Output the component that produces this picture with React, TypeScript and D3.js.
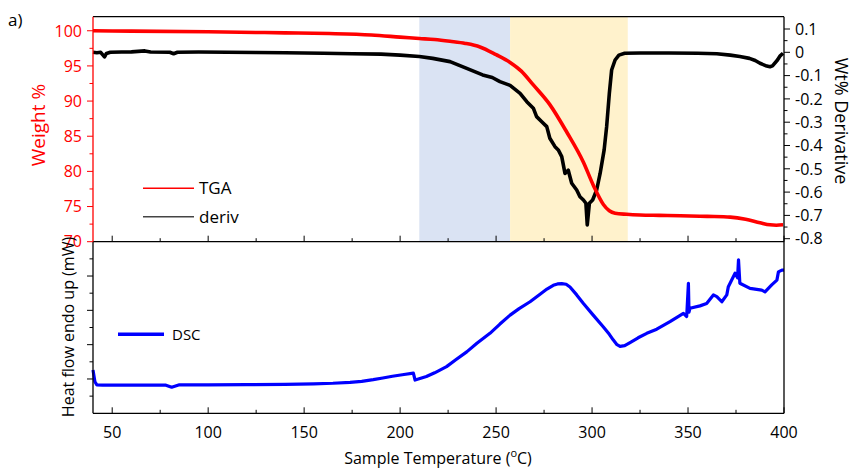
import React from "react";
import * as d3 from "d3";

// ---------- data ----------
const tgaTemp = [40, 60, 100, 140, 163, 185, 200, 210, 218, 226, 234, 241.6, 250, 257.3, 263, 269.4, 278, 286.8, 295.5, 300.7, 305.9, 309, 312, 318, 325, 335, 346, 360, 372, 380, 387.5, 392.7, 396, 399.5];
const tgaWeight = [100, 99.95, 99.85, 99.7, 99.6, 99.4, 99.1, 98.9, 98.75, 98.5, 98.2, 97.7, 96.6, 95.5, 94.3, 92.3, 89.5, 85.6, 81.3, 78.0, 75.3, 74.4, 74.05, 73.9, 73.8, 73.75, 73.7, 73.6, 73.5, 73.2, 72.7, 72.4, 72.35, 72.4];

const derivTemp = [40, 42, 44, 46, 47, 49, 55, 60, 67, 70, 80, 82, 84, 95, 110, 125, 140, 160, 175, 190, 200, 210, 217, 226, 234.7, 243, 248, 252, 257.3, 262.5, 266, 269.4, 271.1, 273.8, 276.4, 278, 280.7, 282.4, 284.2, 285.9, 287.6, 289.4, 292, 293.7, 295.5, 296.8, 297.5, 298.6, 300.3, 302.4, 304.2, 306.3, 307.6, 309, 310.2, 312, 314, 317, 325, 340, 355, 365, 372, 377, 382, 385, 387.5, 391, 392.7, 394, 396.6, 398, 399.5];
const derivValue = [0.0, -0.002, 0.0, -0.02, -0.005, 0.0, 0.001, 0.002, 0.006, 0.001, 0.0, -0.006, 0.0, 0.001, 0.0, -0.001, -0.002, -0.004, -0.006, -0.008, -0.012, -0.018, -0.026, -0.04, -0.069, -0.097, -0.108, -0.126, -0.142, -0.176, -0.212, -0.24, -0.276, -0.298, -0.319, -0.369, -0.405, -0.419, -0.448, -0.52, -0.506, -0.562, -0.591, -0.62, -0.634, -0.648, -0.741, -0.648, -0.634, -0.591, -0.52, -0.419, -0.319, -0.176, -0.076, -0.033, -0.012, -0.004, -0.003, -0.003, -0.004, -0.006, -0.012, -0.018, -0.026, -0.035, -0.047, -0.059, -0.062, -0.058, -0.033, -0.015, -0.004];

const dscTemp = [40, 41, 42, 45, 60, 78, 81, 85, 100, 120, 140, 155, 165, 173.9, 180, 186, 191, 196, 202, 206.9, 207.8, 213.7, 218, 224.2, 229, 234.7, 240, 246.8, 252, 257.3, 262, 267.7, 272.9, 276.5, 279.8, 282, 284.2, 286.5, 288.5, 292, 295.5, 300.6, 305.8, 309, 311, 313, 314.6, 317, 319.8, 324, 328.5, 333.7, 340.6, 347.6, 349.3, 350.2, 350.5, 351, 356.2, 359.7, 363.2, 365, 367.6, 370.2, 371, 374.5, 375.8, 376.3, 377, 382.3, 388.4, 390.1, 393.6, 396.3, 397.1, 398.9, 400];
const dscValue = [1.26, 0.92, 0.83, 0.82, 0.82, 0.82, 0.76, 0.83, 0.83, 0.835, 0.845, 0.86, 0.875, 0.9, 0.93, 0.98, 1.03, 1.08, 1.13, 1.17, 0.97, 1.07, 1.18, 1.36, 1.56, 1.79, 2.04, 2.33, 2.6, 2.86, 3.05, 3.25, 3.47, 3.62, 3.73, 3.77, 3.78, 3.76, 3.68, 3.45, 3.2, 2.86, 2.52, 2.3, 2.14, 2.0, 1.95, 1.97, 2.06, 2.2, 2.33, 2.45, 2.67, 2.91, 2.82, 3.79, 2.95, 3.06, 3.13, 3.2, 3.45, 3.4, 3.25, 3.45, 3.69, 4.08, 3.95, 4.47, 3.79, 3.64, 3.59, 3.54, 3.74, 3.88, 4.12, 4.17, 4.17];

const shadeBands = [
  { from: 210, to: 257.3, color: "#dae3f3" },
  { from: 257.3, to: 318.6, color: "#fff2cc" },
];

const xTicks = [50, 100, 150, 200, 250, 300, 350, 400];
const weightTicks = [70, 75, 80, 85, 90, 95, 100];
const derivTicks = [0.1, 0, -0.1, -0.2, -0.3, -0.4, -0.5, -0.6, -0.7, -0.8];

// ---------- layout ----------
const W = 854, H = 470;
const L = 93, R = 784;
const T1 = 16.7, B1 = 241.7, B2 = 413.3;
const FONT = "'Open Sans', 'Noto Sans', sans-serif";

export default function App() {
  const x = d3.scaleLinear().domain([40, 400]).range([L, R]);
  const yW = d3.scaleLinear().domain([70, 102]).range([B1, T1]);
  const yD = d3.scaleLinear().domain([-0.8129, 0.1528]).range([B1, T1]);
  const yH = d3.scaleLinear().domain([0, 5]).range([B2, B1]);

  const tgaLine = d3.line<number>().x((_, i) => x(tgaTemp[i])).y((d) => yW(d)).curve(d3.curveMonotoneX)(tgaWeight) || "";
  const derivLine = d3.line<number>().x((_, i) => x(derivTemp[i])).y((d) => yD(d))(derivValue) || "";
  const dscLine = d3.line<number>().x((_, i) => x(dscTemp[i])).y((d) => yH(d))(dscValue) || "";

  const xMinor = d3.range(50, 400, 25).filter((v) => v % 50 !== 0);
  const wMinor = d3.range(72.5, 102, 5);
  const dMinor = d3.range(-0.75, 0.15, 0.1);
  const hMajor = d3.range(1, 5, 1);
  const hMinor = d3.range(0.5, 5, 1);

  return (
    <svg width={W} height={H} style={{ position: "absolute", left: 0, top: 0, background: "#fff" }} fontFamily={FONT}>
      <rect x={0} y={0} width={W} height={H} fill="#fff" />
      {shadeBands.map((b, i) => (
        <rect key={i} x={x(b.from)} y={T1} width={x(b.to) - x(b.from)} height={B1 - T1} fill={b.color} />
      ))}

      <path d={derivLine} fill="none" stroke="#000" strokeWidth={3.6} strokeLinejoin="round" />
      <path d={tgaLine} fill="none" stroke="#ff0000" strokeWidth={3.6} />
      <path d={dscLine} fill="none" stroke="#0000ff" strokeWidth={3.2} strokeLinejoin="round" />

      <line x1={L} x2={R} y1={T1} y2={T1} stroke="#000" strokeWidth={1.3} />
      <line x1={L} x2={R} y1={B1} y2={B1} stroke="#000" strokeWidth={1.3} />
      <line x1={L} x2={R} y1={B2} y2={B2} stroke="#000" strokeWidth={1.3} />
      <line x1={L} x2={L} y1={T1} y2={B1} stroke="#ff0000" strokeWidth={1.3} />
      <line x1={L} x2={L} y1={B1} y2={B2} stroke="#000" strokeWidth={1.3} />
      <line x1={R} x2={R} y1={T1} y2={B2} stroke="#000" strokeWidth={1.3} />

      {xTicks.map((t) => (
        <g key={"xt" + t}>
          <line x1={x(t)} x2={x(t)} y1={B1} y2={B1 - 6} stroke="#000" strokeWidth={1} />
          <line x1={x(t)} x2={x(t)} y1={B2} y2={B2 - 6} stroke="#000" strokeWidth={1} />
          <text x={x(t)} y={438} textAnchor="middle" fontSize={16} fill="#000">{t}</text>
        </g>
      ))}
      {xMinor.map((t) => (
        <g key={"xm" + t}>
          <line x1={x(t)} x2={x(t)} y1={B1} y2={B1 - 3.5} stroke="#000" strokeWidth={1} />
          <line x1={x(t)} x2={x(t)} y1={B2} y2={B2 - 3.5} stroke="#000" strokeWidth={1} />
        </g>
      ))}

      {weightTicks.map((t) => (
        <g key={"w" + t}>
          <line x1={L - 6} x2={L} y1={yW(t)} y2={yW(t)} stroke="#ff0000" strokeWidth={1} />
          <text x={82} y={yW(t)} dy="0.36em" textAnchor="end" fontSize={16} fill="#ff0000">{t}</text>
        </g>
      ))}
      {wMinor.map((t) => (
        <line key={"wm" + t} x1={L - 3.5} x2={L} y1={yW(t)} y2={yW(t)} stroke="#ff0000" strokeWidth={1} />
      ))}

      {derivTicks.map((t) => (
        <g key={"d" + t}>
          <line x1={R} x2={R + 6} y1={yD(t)} y2={yD(t)} stroke="#000" strokeWidth={1} />
          <text x={795} y={yD(t)} dy="0.36em" textAnchor="start" fontSize={16} fill="#000">{t === 0 ? "0" : d3.format(".1f")(t).replace("−", "-")}</text>
        </g>
      ))}
      {dMinor.map((t) => (
        <line key={"dm" + t} x1={R} x2={R + 3.5} y1={yD(t)} y2={yD(t)} stroke="#000" strokeWidth={1} />
      ))}

      {hMajor.map((t) => (
        <line key={"h" + t} x1={L - 6} x2={L} y1={yH(t)} y2={yH(t)} stroke="#000" strokeWidth={1} />
      ))}
      {hMinor.map((t) => (
        <line key={"hm" + t} x1={L - 3.5} x2={L} y1={yH(t)} y2={yH(t)} stroke="#000" strokeWidth={1} />
      ))}

      <line x1={143} x2={194} y1={188.3} y2={188.3} stroke="#ff0000" strokeWidth={1.5} />
      <text x={199} y={188.3} dy="0.36em" fontSize={17} fill="#000">TGA</text>
      <line x1={143} x2={194} y1={216.7} y2={216.7} stroke="#444" strokeWidth={1.5} />
      <text x={199} y={216.7} dy="0.36em" fontSize={17} fill="#000">deriv</text>

      <line x1={118} x2={164} y1={334.3} y2={334.3} stroke="#0000ff" strokeWidth={3.5} />
      <text x={172} y={334.3} dy="0.36em" fontSize={15} fill="#000">DSC</text>

      <text x={8} y={26} fontSize={17} fill="#000">a)</text>
      <text transform={`translate(45,125) rotate(-90)`} textAnchor="middle" fontSize={19} fill="#ff0000">Weight %</text>
      <text transform={`translate(74,327) rotate(-90)`} textAnchor="middle" fontSize={16} fill="#000">Heat flow endo up (mW)</text>
      <text transform={`translate(835,121) rotate(90)`} textAnchor="middle" fontSize={18} fill="#000">Wt% Derivative</text>
      <text x={438} y={464} textAnchor="middle" fontSize={16} fill="#000">
        Sample Temperature (<tspan baselineShift="super" fontSize={11}>o</tspan>C)
      </text>
    </svg>
  );
}
